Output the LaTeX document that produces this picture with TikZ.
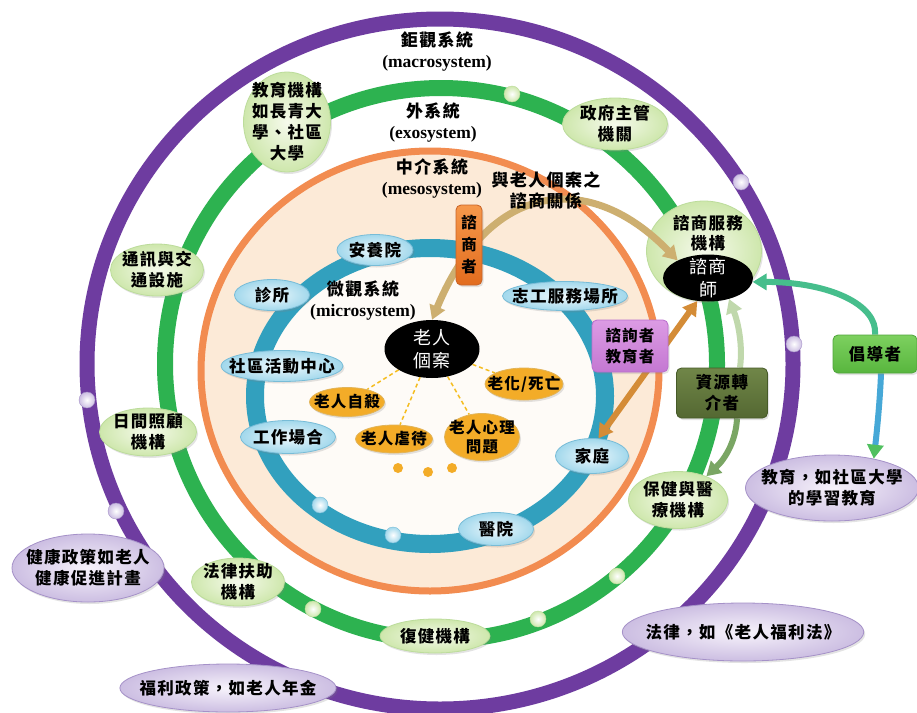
\documentclass[tikz,border=0pt]{standalone}
\usepackage{fontspec}
\setmainfont{Liberation Serif}
\newfontfamily\cjk{Noto Sans CJK TC}[BoldFont={Noto Sans CJK TC Black},LetterSpace=8]
\usetikzlibrary{shapes.geometric,arrows.meta,shadows}
\pgfdeclarelayer{back}
\pgfdeclarelayer{mid}
\pgfsetlayers{back,mid,main}
\definecolor{cpurple}{RGB}{110,60,160}
\definecolor{cgreen}{RGB}{45,178,80}
\definecolor{corange}{RGB}{242,140,80}
\definecolor{cblue}{RGB}{50,160,190}
\definecolor{peach}{RGB}{252,234,215}
\definecolor{innerw}{RGB}{254,251,247}
\definecolor{ginner}{RGB}{246,250,236}
\definecolor{gouter}{RGB}{206,231,172}
\definecolor{gborder}{RGB}{188,220,155}
\definecolor{pinner}{RGB}{247,243,251}
\definecolor{pouter}{RGB}{204,190,226}
\definecolor{pborder}{RGB}{165,145,200}
\definecolor{binner}{RGB}{238,248,252}
\definecolor{bouter}{RGB}{162,216,236}
\definecolor{bborder}{RGB}{120,188,215}
\definecolor{yfill}{RGB}{243,172,40}
\definecolor{yborder}{RGB}{225,180,90}
\definecolor{ctan}{RGB}{205,175,112}
\definecolor{cbrown}{RGB}{212,140,55}
\definecolor{sagel}{RGB}{192,216,172}
\definecolor{saged}{RGB}{122,166,100}
\definecolor{advg}{RGB}{70,190,140}
\definecolor{advb}{RGB}{70,168,215}
\definecolor{advt}{RGB}{80,192,95}
\begin{document}
\begin{tikzpicture}[x=1pt,y=-1pt,
  sz/.style 2 args={minimum width=#1pt,minimum height=#2pt},
  shad/.style={drop shadow={shadow xshift=1.5pt,shadow yshift=-2pt,opacity=0.22}},
  cjkb/.style={font=\cjk\bfseries\fontsize{16.5}{21}\selectfont},
  gnode/.style={ellipse,shad,inner sep=-12pt,draw=gborder,line width=0.8pt,inner color=ginner,outer color=gouter,cjkb,align=center},
  pnode/.style={ellipse,shad,inner sep=-12pt,draw=pborder,line width=0.8pt,inner color=pinner,outer color=pouter,cjkb,align=center},
  bnode/.style={ellipse,shad,inner sep=-12pt,draw=bborder,line width=0.8pt,inner color=binner,outer color=bouter,cjkb,align=center},
  ynode/.style={ellipse,shad,inner sep=-12pt,draw=yborder,line width=0.8pt,fill=yfill,font=\cjk\bfseries\fontsize{15.5}{19}\selectfont,align=center},
  knode/.style={ellipse,inner sep=-12pt,fill=black,text=white,font=\cjk\fontsize{18}{23}\selectfont,align=center},
  rbox/.style={rectangle,shad,rounded corners=5pt,inner sep=-12pt,cjkb,align=center,line width=0.8pt},
  pdot/.style={circle,inner sep=0pt,minimum size=16pt,inner color=white,outer color=pouter,draw=pborder,line width=0.4pt},
  gdot/.style={circle,inner sep=0pt,minimum size=16pt,inner color=white,outer color=gouter,draw=gborder,line width=0.4pt},
  bdot/.style={circle,inner sep=0pt,minimum size=16pt,inner color=white,outer color=bouter,draw=bborder,line width=0.4pt},
  ydot/.style={circle,inner sep=0pt,minimum size=10pt,fill=yfill},
  title/.style={align=center,inner sep=1pt,font=\fontsize{17.5}{21}\selectfont\bfseries},
  tip/.style={-{Triangle[length=14pt,width=16pt]}},
  dtip/.style={{Triangle[length=14pt,width=16pt]}-{Triangle[length=14pt,width=16pt]}},
  yline/.style={draw=yfill!80!yellow,line width=1.5pt,dash pattern=on 4pt off 3pt}
]
\useasboundingbox (0,0) rectangle (917,712);

\begin{pgfonlayer}{back}
  \fill[white] (0,0) rectangle (917,712);
  % rings
  \fill[peach] (430,371) ellipse (229 and 220);
  \fill[innerw] (430,396) ellipse (175 and 148);
  \draw[cpurple,line width=15pt] (440,364) ellipse (353 and 345);
  \draw[cgreen,line width=16pt] (441,364) circle (276);
  \draw[corange,line width=7pt] (430,371) ellipse (229 and 220);
  \draw[cblue,line width=18pt] (430,396) ellipse (175 and 148);
  % counselling agency
  \node[gnode,sz={115}{100}] (svc) at (704,251) {};
\end{pgfonlayer}

% dots on rings
\node[pdot] (pd1) at (741,182) {};
\node[pdot] (pd2) at (794,344) {};
\node[pdot] (pd3) at (87,400) {};
\node[pdot] (pd4) at (116,511) {};
\node[gdot] (gd1) at (512,94) {};
\node[gdot] (gd2) at (313,609) {};
\node[gdot] (gd3) at (538,619) {};
\node[gdot] (gd4) at (617,576) {};
\node[bdot] (bd1) at (320,505) {};
\node[bdot] (bd2) at (393,535) {};
\node[ydot] (yd1) at (398,468) {};
\node[ydot] (yd2) at (428,472) {};
\node[ydot] (yd3) at (452,468) {};

% system titles
\node[title] (tmacro) at (437,52) {{\cjk\fontsize{17}{21}\selectfont 鉅觀系統}\\(macrosystem)};
\node[title] (texo) at (433,123) {{\cjk\fontsize{17}{21}\selectfont 外系統}\\(exosystem)};
\node[title] (tmeso) at (432,178) {{\cjk\fontsize{17}{21}\selectfont 中介系統}\\(mesosystem)};
\node[title] (tmicro) at (363,301) {{\cjk\fontsize{17}{21}\selectfont 微觀系統}\\(microsystem)};
\node[title,font=\cjk\bfseries\fontsize{17}{21}\selectfont] (trel) at (546,190) {與老人個案之\\諮商關係};
\node[title,font=\cjk\bfseries\fontsize{16.5}{20}\selectfont] (tsvc) at (708,233) {諮商服務\\機構};

% exosystem nodes
\node[gnode,sz={87}{100}] (edui) at (287,122) {教育機構\\如長青大\\學、社區\\大學};
\node[gnode,sz={105}{52}] (gov) at (615,124) {政府主管\\機關};
\node[gnode,sz={93}{52}] (comm) at (157,270) {通訊與交\\通設施};
\node[gnode,sz={97}{48}] (day) at (148,432) {日間照顧\\機構};
\node[gnode,sz={93}{48}] (legal) at (238,582) {法律扶助\\機構};
\node[gnode,sz={110}{34}] (rehab) at (435,636) {復健機構};
\node[gnode,sz={99}{57}] (health) at (678,500) {保健與醫\\療機構};

% macrosystem nodes
\node[pnode,sz={152}{68}] (hpol) at (88,568) {健康政策如老人\\健康促進計畫};
\node[pnode,sz={215}{48}] (wpol) at (228,688) {福利政策，如老人年金};
\node[pnode,sz={228}{58}] (law) at (743,632) {法律，如《老人福利法》};
\node[pnode,sz={173}{66}] (edu) at (832,488) {教育，如社區大學\\的學習教育};

% microsystem nodes
\node[bnode,sz={76}{31}] (nurse) at (375,250) {安養院};
\node[bnode,sz={75}{31}] (clinic) at (272,295) {診所};
\node[bnode,sz={122}{31}] (center) at (282,366) {社區活動中心};
\node[bnode,sz={95}{33}] (work) at (288,437) {工作場合};
\node[bnode,sz={125}{29}] (vol) at (565,296) {志工服務場所};
\node[bnode,sz={73}{35}] (family) at (592,456) {家庭};
\node[bnode,sz={75}{33}] (hosp) at (496,529) {醫院};

% case and issues
\node[knode,sz={95}{58}] (case) at (432,349) {老人\\個案};
\node[ynode,sz={75}{29}] (suicide) at (347,402) {老人自殺};
\node[ynode,sz={77}{28}] (abuse) at (394,439) {老人虐待};
\node[ynode,sz={75}{47}] (psych) at (482,437) {老人心理\\問題};
\node[ynode,sz={78}{32}] (aging) at (524,384) {老化/死亡};

% counsellor
\node[knode,sz={90}{47}] (counsel) at (708,278) {諮商\\師};

% role boxes
\node[rbox,sz={26}{80},draw={rgb,255:red,200;green,100;blue,40},top color={rgb,255:red,246;green,152;blue,75},bottom color={rgb,255:red,226;green,108;blue,30},font=\cjk\bfseries\fontsize{15.5}{22}\selectfont] (cons) at (469,245) {諮\\商\\者};
\node[rbox,sz={76}{52},draw={rgb,255:red,185;green,110;blue,205},top color={rgb,255:red,220;green,155;blue,228},bottom color={rgb,255:red,196;green,120;blue,210},font=\cjk\bfseries\fontsize{15.5}{21}\selectfont] (consult) at (630,346) {諮詢者\\教育者};
\node[rbox,sz={91}{50},draw={rgb,255:red,70;green,90;blue,40},top color={rgb,255:red,112;green,134;blue,72},bottom color={rgb,255:red,84;green,104;blue,50}] (res) at (722,393) {資源轉\\介者};
\node[rbox,sz={84}{38},draw={rgb,255:red,80;green,165;blue,60},top color={rgb,255:red,125;green,208;blue,95},bottom color={rgb,255:red,88;green,182;blue,62}] (adv) at (875,354) {倡導者};

% connectors
\begin{pgfonlayer}{mid}
  \draw[yline] (case) -- (suicide);
  \draw[yline] (case) -- (abuse);
  \draw[yline] (case) -- (psych);
  \draw[yline] (case) -- (aging);
  \draw[ctan,line width=7pt,dtip] (case.north) .. controls (490,180) and (590,170) .. (counsel.150);
  \draw[cbrown,line width=6pt,dtip] (family.70) -- (counsel.245);
  \draw[sagel,line width=6pt,tip] ([xshift=18pt]res.north) .. controls (743,345) and (738,322) .. (counsel.-45);
  \draw[saged,line width=6pt,tip] ([xshift=15pt]res.south) .. controls (736,440) and (726,458) .. (health.40);
  \draw[advg,line width=6pt,tip] (adv.north) .. controls (878,305) and (830,282) .. (counsel.-5);
  \draw[advb,line width=6pt,-{Triangle[length=14pt,width=16pt,color=advt]}] ([xshift=6pt]adv.south) .. controls (880,400) and (877,430) .. (edu.35);
\end{pgfonlayer}
\end{tikzpicture}
\end{document}
